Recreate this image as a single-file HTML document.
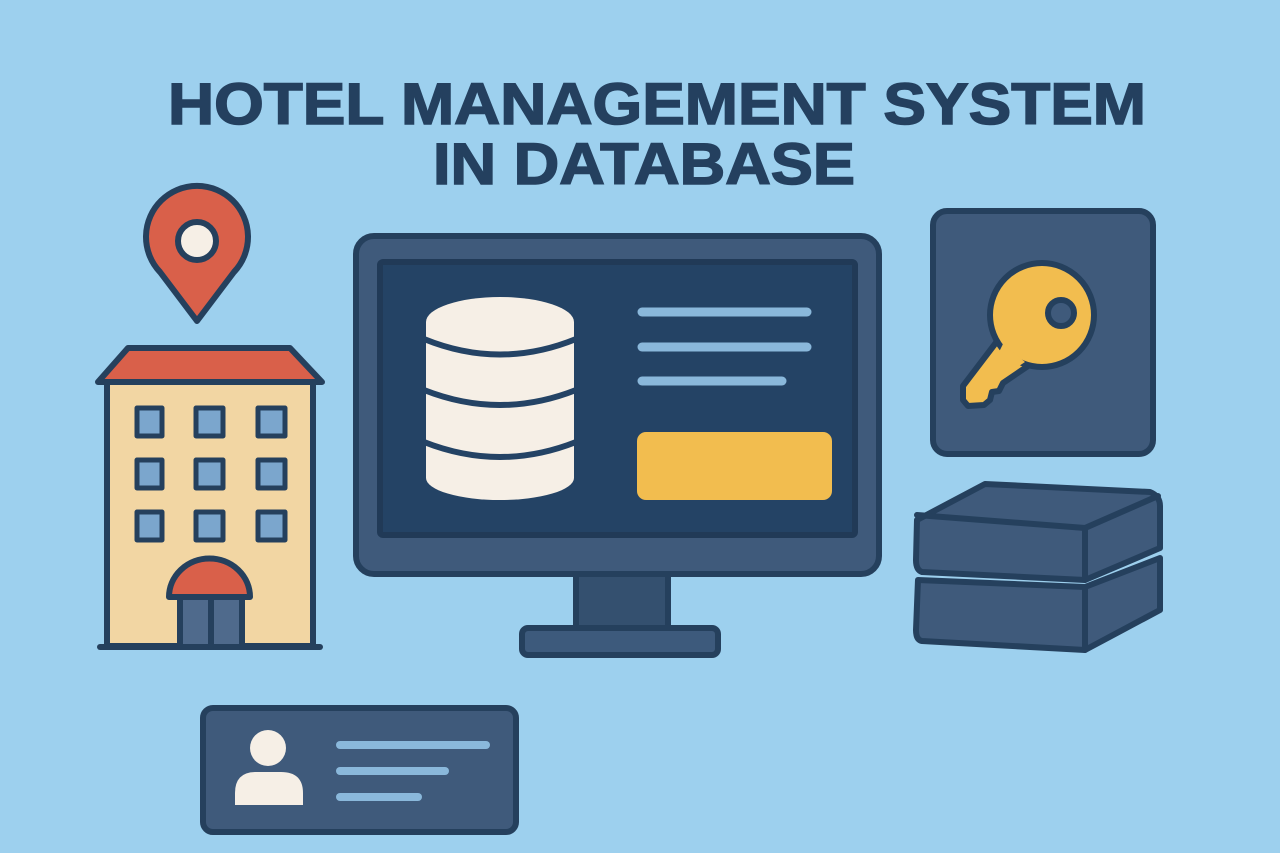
<!DOCTYPE html>
<html><head><meta charset="utf-8"><style>
html,body{margin:0;padding:0;background:#9dd0ee;}
svg{display:block;}
</style></head><body>
<svg width="1280" height="853" viewBox="0 0 1280 853" xmlns="http://www.w3.org/2000/svg">
<rect width="1280" height="853" fill="#9dd0ee"/>
<g font-family="Liberation Sans, sans-serif" font-weight="bold" fill="#24405f" font-size="58" text-anchor="middle" stroke="#24405f" stroke-width="1.5">
<text x="657" y="124" textLength="978" lengthAdjust="spacingAndGlyphs">HOTEL MANAGEMENT SYSTEM</text>
<text x="644" y="184" textLength="422" lengthAdjust="spacingAndGlyphs">IN DATABASE</text>
</g>
<g stroke="#25405d" stroke-width="6" stroke-linejoin="round" stroke-linecap="round">
<!-- pin -->
<path d="M197 321 L160 272 A51 51 0 1 1 234 272 Z" fill="#d9604a"/>
<circle cx="197" cy="241" r="19" fill="#f6efe6"/>
<!-- building -->
<rect x="107" y="380" width="206" height="266" fill="#f2d6a3"/>
<polygon points="128,348 290,348 322,382 98,382" fill="#d9604a"/>
<line x1="100" y1="647" x2="320" y2="647"/>
<g fill="#7ba6cd" stroke-width="5">
<rect x="137" y="408" width="25" height="28"/><rect x="196" y="408" width="27" height="28"/><rect x="258" y="408" width="27" height="28"/>
<rect x="137" y="460" width="25" height="28"/><rect x="196" y="460" width="27" height="28"/><rect x="258" y="460" width="27" height="28"/>
<rect x="137" y="512" width="25" height="28"/><rect x="196" y="512" width="27" height="28"/><rect x="258" y="512" width="27" height="28"/>
</g>
<rect x="180" y="597" width="62" height="50" fill="#4f6a8c"/>
<line x1="211" y1="597" x2="211" y2="647"/>
<path d="M169 597 A40 38 0 0 1 250 597 Z" fill="#d9604a"/>
<!-- monitor -->
<rect x="576" y="572" width="92" height="60" fill="#34506f"/>
<rect x="522" y="628" width="196" height="27" rx="6" fill="#3d5a7c"/>
<rect x="356" y="236" width="523" height="338" rx="18" fill="#3f5a7b"/>
<rect x="380" y="262" width="475" height="273" rx="3" fill="#244365" stroke="#213a57"/>
</g>
<!-- database cylinder -->
<g fill="#f6efe6">
<path d="M426 322 L426 478 A74 22 0 0 0 574 478 L574 322 Z"/>
<ellipse cx="500" cy="322" rx="74" ry="25"/>
</g>
<g fill="none" stroke="#244365" stroke-width="6">
<path d="M424 339 Q500 370 576 339"/>
<path d="M424 390 Q500 420 576 390"/>
<path d="M424 442 Q500 472 576 442"/>
</g>
<g stroke="#8ab8db" stroke-width="9" stroke-linecap="round">
<line x1="642" y1="312" x2="807" y2="312"/>
<line x1="642" y1="347" x2="807" y2="347"/>
<line x1="642" y1="381" x2="782" y2="381"/>
</g>
<rect x="637" y="432" width="195" height="68" rx="9" fill="#f2bd4f"/>
<g stroke="#25405d" stroke-width="6" stroke-linejoin="round" stroke-linecap="round">
<!-- key card -->
<rect x="933" y="211" width="220" height="243" rx="14" fill="#3f5a7b"/>
<polygon points="998,340 1028,366 1003,383 999,391 992,392 990,400 984,405 968,406 963,400 963,386" fill="#f2bd4f"/>
<circle cx="1042" cy="315" r="52" fill="#f2bd4f"/>
</g>
<polygon points="1003,344 1025,362 1010,372 995,360" fill="#f2bd4f"/>
<circle cx="1061" cy="313" r="13" fill="#3f5a7b" stroke="#25405d" stroke-width="6"/>
<g stroke="#25405d" stroke-width="6" stroke-linejoin="round" stroke-linecap="round">
<!-- stacked boxes -->
<path d="M918 580 L1085 587 L1160 558 L1160 610 L1085 650 L922 641 Q916 640 916 630 Z" fill="#3f5a7b"/>
<path d="M1085 587 L1085 650" fill="none"/>
<path d="M917 520 L985 484 L1150 492 Q1160 496 1160 506 L1160 548 L1085 580 L922 572 Q916 570 916 560 Z" fill="#3f5a7b"/>
<path d="M917 515 L1085 528 L1158 496" fill="none"/>
<path d="M1085 528 L1085 580" fill="none"/>
<!-- profile card -->
<rect x="203" y="708" width="313" height="124" rx="10" fill="#3f5a7b"/>
</g>
<circle cx="268" cy="748" r="18" fill="#f6efe6"/>
<path d="M235 805 L235 793 Q235 772 256 772 L281 772 Q303 772 303 793 L303 805 Z" fill="#f6efe6"/>
<g stroke="#8ab8db" stroke-width="8" stroke-linecap="round">
<line x1="340" y1="745" x2="486" y2="745"/>
<line x1="340" y1="771" x2="445" y2="771"/>
<line x1="340" y1="797" x2="418" y2="797"/>
</g>
</svg>
</body></html>
